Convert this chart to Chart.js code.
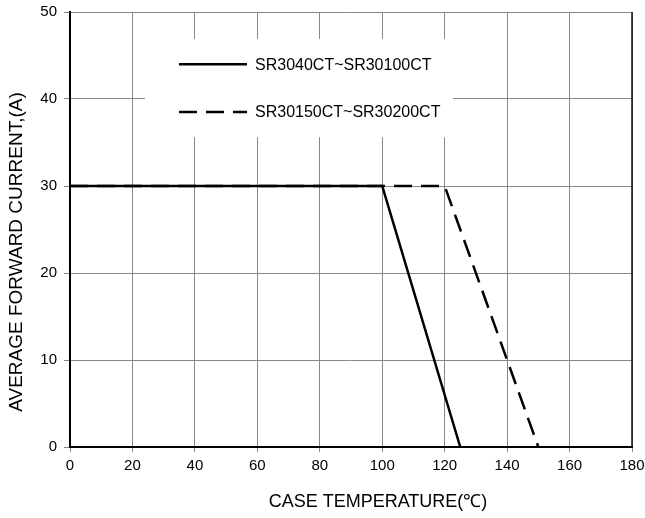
<!DOCTYPE html>
<html>
<head>
<meta charset="utf-8">
<script src="https://cdn.jsdelivr.net/npm/chart.js@4"></script>
<style>
  html, body { margin: 0; padding: 0; background: #fff; }
  #wrap { width: 645px; height: 518px; }
</style>
</head>
<body>
<div id="wrap"><canvas id="myChart" width="645" height="518"></canvas></div>
<script>
// case temperature (C) vs. average forward current (A)
var tempA = [0, 100, 125];
var currA = [30, 30, 0];
var tempB = [0, 120, 150];
var currB = [30, 30, 0];
var seriesNames = ['SR3040CT~SR30100CT', 'SR30150CT~SR30200CT'];
var xTicks = [0, 20, 40, 60, 80, 100, 120, 140, 160, 180];
var yTicks = [0, 10, 20, 30, 40, 50];
var xTitle = 'CASE TEMPERATURE(℃)';
var yTitle = 'AVERAGE FORWARD CURRENT,(A)';

function toPoints(xs, ys) {
  var pts = [];
  for (var i = 0; i < xs.length; i++) pts.push({x: xs[i], y: ys[i]});
  return pts;
}

var FONT = 'Arial, "Liberation Sans", sans-serif';

// legend drawn inside the plot on a white box, plus the axis titles
var extras = {
  id: 'extras',
  afterDatasetsDraw: function(chart) {
    var c = chart.ctx;
    var xs = chart.scales.x, ys = chart.scales.y;
    c.save();
    c.fillStyle = '#fff';
    var x0 = xs.getPixelForValue(24), x1 = xs.getPixelForValue(122.7);
    var y0 = ys.getPixelForValue(46.9), y1 = ys.getPixelForValue(35.6);
    c.fillRect(x0, y0, x1 - x0, y1 - y0);
    var rows = [ys.getPixelForValue(44.0), ys.getPixelForValue(38.5)];
    chart.data.datasets.forEach(function(ds, i) {
      c.strokeStyle = '#000';
      c.lineWidth = 2.5;
      c.setLineDash(ds.borderDash || []);
      c.beginPath();
      c.moveTo(179, rows[i]);
      c.lineTo(247, rows[i]);
      c.stroke();
      c.setLineDash([]);
      c.fillStyle = '#000';
      c.font = '16px ' + FONT;
      c.textBaseline = 'middle';
      c.fillText(ds.label, 255, rows[i] + 1);
    });

    // right frame edge is dark in the original
    c.strokeStyle = '#111';
    c.lineWidth = 1.5;
    c.beginPath();
    c.moveTo(xs.right, ys.top);
    c.lineTo(xs.right, ys.bottom);
    c.stroke();

    // x title
    c.fillStyle = '#000';
    c.font = '18px ' + FONT;
    c.textAlign = 'center';
    c.textBaseline = 'middle';
    c.fillText(xTitle, 378, 502);

    // y title
    c.save();
    c.translate(17, 252);
    c.rotate(-Math.PI / 2);
    c.font = '19px ' + FONT;
    c.fillText(yTitle, 0, 0);
    c.restore();
    c.restore();
  }
};

var ctx = document.getElementById('myChart').getContext('2d');
var myChart = new Chart(ctx, {
  type: 'line',
  data: {
    datasets: [
      {
        label: seriesNames[0],
        data: toPoints(tempA, currA),
        borderColor: '#000',
        borderWidth: 2.5,
        pointRadius: 0,
        tension: 0
      },
      {
        label: seriesNames[1],
        data: toPoints(tempB, currB),
        borderColor: '#000',
        borderWidth: 2.5,
        borderDash: [18, 9],
        pointRadius: 0,
        tension: 0
      }
    ]
  },
  options: {
    responsive: false,
    animation: false,
    layout: { padding: { top: 12, right: 13, left: 0, bottom: 0 } },
    plugins: { legend: { display: false }, tooltip: { enabled: false } },
    scales: {
      x: {
        type: 'linear',
        min: 0, max: 180,
        afterBuildTicks: function(s) { s.ticks = xTicks.map(function(v) { return {value: v}; }); },
        afterFit: function(s) { s.height = 71; s.paddingLeft = 0; s.paddingRight = 0; },
        grid: { color: '#888', lineWidth: 1, tickLength: 5, tickColor: '#888' },
        border: { color: '#000', width: 2 },
        ticks: { color: '#000', font: { size: 15, family: FONT }, padding: 5, maxRotation: 0 }
      },
      y: {
        min: 0, max: 50,
        afterBuildTicks: function(s) { s.ticks = yTicks.map(function(v) { return {value: v}; }); },
        afterFit: function(s) { s.width = 70; s.paddingTop = 0; s.paddingBottom = 0; },
        grid: { color: '#888', lineWidth: 1, tickLength: 6, tickColor: '#888' },
        border: { color: '#000', width: 2 },
        ticks: { color: '#000', font: { size: 15, family: FONT }, padding: 7 }
      }
    }
  },
  plugins: [extras]
});
</script>
</body>
</html>
